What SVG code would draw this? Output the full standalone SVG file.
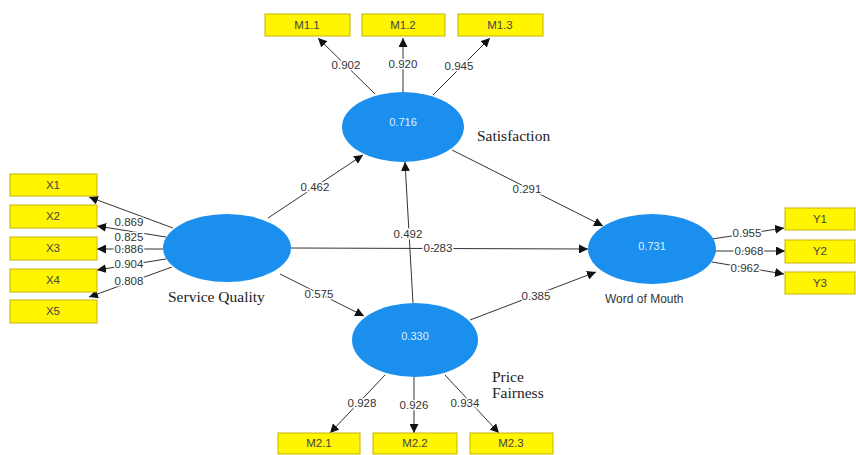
<svg xmlns="http://www.w3.org/2000/svg" width="856" height="455" viewBox="0 0 856 455">
<style>
.box{fill:#FFF500;stroke:#C8B400;stroke-width:1}
.bt{font-family:"Liberation Sans",Arial,sans-serif;font-size:11.5px;fill:#444;text-anchor:middle;dominant-baseline:central}
.lv{fill:#1B8FEE}
.lvt{font-family:"Liberation Sans",Arial,sans-serif;font-size:11px;fill:#DDEFFF;text-anchor:middle;dominant-baseline:central}
.nm{font-family:"Liberation Serif","Times New Roman",serif;font-size:15.5px;fill:#222}
.nms{font-family:"Liberation Sans",Arial,sans-serif;font-size:12px;fill:#333}
.ln{stroke:#333;stroke-width:1;fill:none;marker-end:url(#ah)}
.lb{font-family:"Liberation Sans",Arial,sans-serif;font-size:11.5px;fill:#333;text-anchor:middle;dominant-baseline:central;stroke:#fff;stroke-width:3;paint-order:stroke}
</style>
<defs>
<marker id="ah" viewBox="0 0 10 10" refX="10" refY="5" markerWidth="9" markerHeight="9" markerUnits="userSpaceOnUse" orient="auto">
<path d="M0,0 L10,5 L0,10 z" fill="#111"/>
</marker>
</defs>
<rect width="856" height="455" fill="#fff"/>
<g id="connectors">
<line class="ln" x1="375" y1="94" x2="318" y2="38"/>
<line class="ln" x1="403" y1="93" x2="403" y2="38"/>
<line class="ln" x1="433" y1="95" x2="490" y2="38"/>
<line class="ln" x1="268" y1="218" x2="363" y2="155"/>
<line class="ln" x1="413" y1="303" x2="405" y2="162"/>
<line class="ln" x1="291" y1="248" x2="588" y2="249"/>
<line class="ln" x1="452" y1="150" x2="603" y2="226"/>
<line class="ln" x1="280" y1="274" x2="364" y2="316"/>
<line class="ln" x1="470" y1="320" x2="596" y2="272"/>
<line class="ln" x1="385" y1="375" x2="330" y2="433"/>
<line class="ln" x1="414" y1="377" x2="414" y2="433"/>
<line class="ln" x1="445" y1="375" x2="499" y2="433"/>
<line class="ln" x1="712" y1="239" x2="784" y2="228"/>
<line class="ln" x1="715" y1="251" x2="785" y2="251"/>
<line class="ln" x1="712" y1="262" x2="784" y2="274"/>
<line class="ln" x1="173" y1="228" x2="89" y2="197"/>
<line class="ln" x1="166" y1="237" x2="97" y2="226"/>
<line class="ln" x1="163" y1="249" x2="97" y2="249"/>
<line class="ln" x1="166" y1="259" x2="97" y2="270"/>
<line class="ln" x1="172" y1="267" x2="89" y2="297"/>
<text class="lb" x="346" y="65">0.902</text>
<text class="lb" x="403" y="64">0.920</text>
<text class="lb" x="459" y="66">0.945</text>
<text class="lb" x="315" y="187">0.462</text>
<text class="lb" x="408" y="234">0.492</text>
<text class="lb" x="438" y="248">0.283</text>
<text class="lb" x="527" y="189">0.291</text>
<text class="lb" x="319" y="294">0.575</text>
<text class="lb" x="536" y="296">0.385</text>
<text class="lb" x="362" y="403">0.928</text>
<text class="lb" x="414" y="405">0.926</text>
<text class="lb" x="465" y="403">0.934</text>
<text class="lb" x="747" y="233">0.955</text>
<text class="lb" x="749" y="251">0.968</text>
<text class="lb" x="745" y="268">0.962</text>
<text class="lb" x="129" y="222">0.869</text>
<text class="lb" x="129" y="237">0.825</text>
<text class="lb" x="129" y="249">0.886</text>
<text class="lb" x="129" y="264">0.904</text>
<text class="lb" x="129" y="281">0.808</text>
</g>
<g id="satisfaction">
<ellipse class="lv" cx="403" cy="127" rx="61" ry="35"/>
<text class="lvt" x="403" y="122">0.716</text>
<text class="nm" x="477" y="141">Satisfaction</text>
</g>
<g id="service-quality">
<ellipse class="lv" cx="227" cy="248" rx="64" ry="34"/>
<text class="nm" x="168" y="302">Service Quality</text>
</g>
<g id="word-of-mouth">
<ellipse class="lv" cx="652" cy="249" rx="64" ry="35"/>
<text class="lvt" x="652" y="246">0.731</text>
<text class="nms" x="605" y="303">Word of Mouth</text>
</g>
<g id="price-fairness">
<ellipse class="lv" cx="415" cy="340" rx="63" ry="37"/>
<text class="lvt" x="415" y="336">0.330</text>
<text class="nm" x="492" y="382">Price</text>
<text class="nm" x="492" y="398">Fairness</text>
</g>
<g id="M1.1"><rect class="box" x="265" y="14" width="85" height="22"/><text class="bt" x="307" y="25">M1.1</text></g>
<g id="M1.2"><rect class="box" x="362" y="14" width="83" height="22"/><text class="bt" x="403" y="25">M1.2</text></g>
<g id="M1.3"><rect class="box" x="458" y="14" width="85" height="22"/><text class="bt" x="500" y="25">M1.3</text></g>
<g id="X1"><rect class="box" x="10" y="174" width="87" height="22"/><text class="bt" x="53" y="185">X1</text></g>
<g id="X2"><rect class="box" x="10" y="205" width="87" height="23"/><text class="bt" x="53" y="216">X2</text></g>
<g id="X3"><rect class="box" x="10" y="237" width="87" height="23"/><text class="bt" x="53" y="248">X3</text></g>
<g id="X4"><rect class="box" x="10" y="269" width="87" height="23"/><text class="bt" x="53" y="280">X4</text></g>
<g id="X5"><rect class="box" x="10" y="300" width="87" height="23"/><text class="bt" x="53" y="311">X5</text></g>
<g id="Y1"><rect class="box" x="785" y="208" width="70" height="22"/><text class="bt" x="820" y="219">Y1</text></g>
<g id="Y2"><rect class="box" x="785" y="240" width="70" height="23"/><text class="bt" x="820" y="251">Y2</text></g>
<g id="Y3"><rect class="box" x="785" y="272" width="70" height="22"/><text class="bt" x="820" y="283">Y3</text></g>
<g id="M2.1"><rect class="box" x="278" y="433" width="82" height="21"/><text class="bt" x="319" y="443">M2.1</text></g>
<g id="M2.2"><rect class="box" x="373" y="433" width="84" height="21"/><text class="bt" x="415" y="443">M2.2</text></g>
<g id="M2.3"><rect class="box" x="470" y="433" width="83" height="21"/><text class="bt" x="511" y="443">M2.3</text></g>
</svg>
